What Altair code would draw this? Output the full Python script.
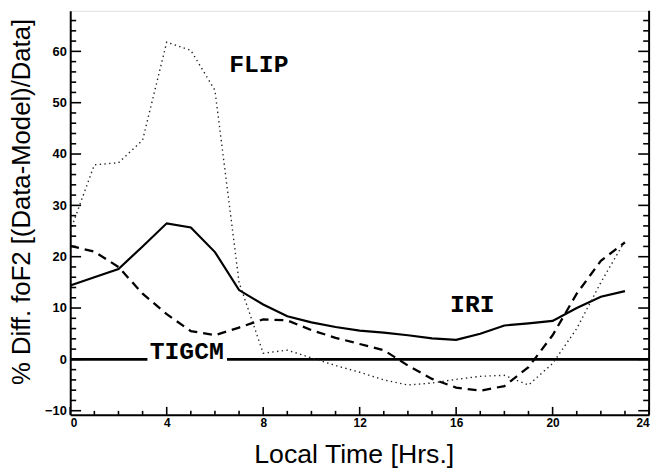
import altair as alt
import pandas as pd

# ---- data ----
hours = list(range(24))
iri = [14.4, 16.0, 17.6, 22.0, 26.5, 25.7, 20.9, 13.5, 10.7, 8.4, 7.2, 6.3, 5.6, 5.2, 4.7, 4.1, 3.8, 5.0, 6.6, 7.0, 7.5, 10.0, 12.2, 13.3]
tigcm = [22.1, 21.0, 18.0, 12.8, 8.8, 5.5, 4.7, 6.2, 7.8, 7.6, 5.7, 4.2, 3.0, 1.8, -1.2, -3.8, -5.5, -6.1, -5.2, -1.5, 4.7, 12.8, 19.2, 22.8]
flip = [25.0, 37.9, 38.3, 42.7, 61.8, 60.2, 52.4, 15.0, 1.2, 1.8, 0.3, -1.2, -2.5, -4.0, -5.0, -4.6, -3.9, -3.3, -3.1, -5.0, -0.8, 6.0, 15.0, 23.1]

label_text = ["FLIP", "IRI", "TIGCM"]
label_hour = [7.82, 16.67, 4.83]
label_val = [55.9, 9.3, 0.0]

zero_start = [0.0, 6.5]
zero_end = [3.2, 24.0]

x_major = [0, 4, 8, 12, 16, 20, 24]
x_minor = [h for h in range(0, 25) if h % 4 != 0]
y_major = [-10, 0, 10, 20, 30, 40, 50, 60]
y_minor = [v for v in range(-10, 68, 2) if v % 10 != 0]

X_DOMAIN = [0, 24]
Y_DOMAIN = [-10.8, 67.9]
W, H = 586, 409

series = pd.DataFrame({
    "hour": hours * 3,
    "value": iri + tigcm + flip,
    "model": ["IRI"] * 24 + ["TIGCM"] * 24 + ["FLIP"] * 24,
})
labels = pd.DataFrame({"text": label_text, "hour": label_hour, "value": label_val})
zero = pd.DataFrame({"start": zero_start, "end": zero_end, "value": [0, 0]})

xs = alt.Scale(domain=X_DOMAIN, nice=False, zero=False)
ys = alt.Scale(domain=Y_DOMAIN, nice=False, zero=False)

FONT = "Liberation Sans"

x_axis = alt.Axis(values=x_major, ticks=False, grid=False, domain=True, domainColor="black",
                  domainWidth=2, labelFont=FONT, labelFontWeight="bold", labelFontSize=12,
                  labelColor="black", labelPadding=3, title="Local Time [Hrs.]",
                  titleFont=FONT, titleFontSize=27, titleFontWeight="normal", titleColor="black",
                  titleX=287, titleY=48, titleAlign="center", titleBaseline="alphabetic")
y_axis = alt.Axis(values=y_major, ticks=False, grid=False, domain=True, domainColor="black",
                  domainWidth=2, labelFont=FONT, labelFontWeight="bold", labelFontSize=13,
                  labelColor="black", labelPadding=4, title="% Diff. foF2 [(Data-Model)/Data]",
                  titleFont=FONT, titleFontSize=26, titleFontWeight="normal", titleColor="black",
                  titleAngle=270, titleX=-49, titleY=193, titleAlign="center", titleBaseline="middle")

base = alt.Chart(series)

def line(model, dash, width, color="black"):
    kw = dict(color=color, strokeWidth=width, strokeCap="butt")
    if dash:
        kw["strokeDash"] = dash
    return base.transform_filter(alt.datum.model == model).mark_line(**kw).encode(
        x=alt.X("hour:Q", scale=xs, axis=x_axis),
        y=alt.Y("value:Q", scale=ys, axis=y_axis),
    )

iri_l = line("IRI", None, 2.2)
tig_l = line("TIGCM", [9, 6], 2.3)
flip_l = line("FLIP", [1.4, 3.4], 1.4, "#222222")

zero_l = alt.Chart(zero).mark_rule(color="black", strokeWidth=2.6).encode(
    x=alt.X("start:Q", scale=xs), x2="end:Q", y=alt.Y("value:Q", scale=ys))

text_l = alt.Chart(labels).mark_text(font="Liberation Mono", fontSize=25, fontWeight="bold",
                                     align="center", baseline="alphabetic", color="black").encode(
    x=alt.X("hour:Q", scale=xs), y=alt.Y("value:Q", scale=ys), text="text:N")

def yticks(vals, x0, x1):
    return alt.Chart(pd.DataFrame({"v": vals})).mark_rule(color="black", strokeWidth=1.6).encode(
        y=alt.Y("v:Q", scale=ys), x=alt.value(x0), x2=alt.value(x1))

def xticks(vals, length):
    return alt.Chart(pd.DataFrame({"h": vals})).mark_rule(color="black", strokeWidth=1.6).encode(
        x=alt.X("h:Q", scale=xs), y=alt.value(H), y2=alt.value(H - length))

right_border = alt.Chart(pd.DataFrame({"h": [24], "a": [Y_DOMAIN[0]], "b": [Y_DOMAIN[1]]})).mark_rule(
    color="black", strokeWidth=2).encode(x=alt.X("h:Q", scale=xs), y=alt.Y("a:Q", scale=ys), y2="b:Q")

chart = alt.layer(
    zero_l, iri_l, tig_l, flip_l, text_l,
    yticks(y_major, 0, 11), yticks(y_minor, 0, 6),
    yticks(y_major, W, W - 11), yticks(y_minor, W, W - 6),
    xticks(x_major, 8), xticks(x_minor, 4),
    right_border,
).properties(
    width=W, height=H,
    autosize=alt.AutoSizeParams(type="none"),
    padding={"left": 63, "top": 0, "right": 8, "bottom": 51},
).configure_view(stroke=None).configure(background="white")

chart.save("out.html", embed_options={"renderer": "svg", "actions": False})
